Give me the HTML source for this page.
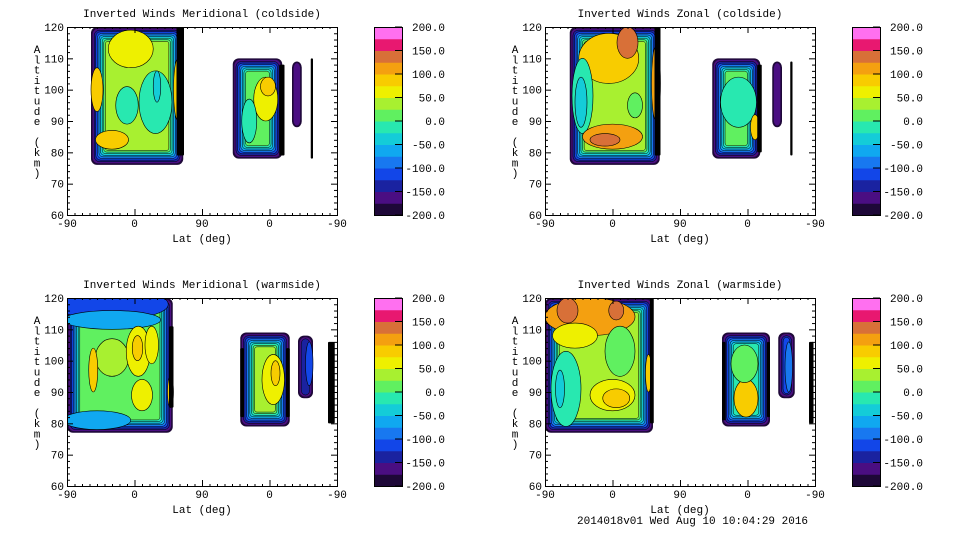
<!DOCTYPE html>
<html><head><meta charset="utf-8">
<style>
html,body{margin:0;padding:0;background:#fff;}
body{width:960px;height:540px;overflow:hidden;font-family:"Liberation Mono",monospace;}
svg text{font-family:"Liberation Mono",monospace;font-size:11px;fill:#000;}
</style></head>
<body>
<svg id="root" width="960" height="540" viewBox="0 0 960 540"></svg>
<script>
// colour levels (-200..200 in 25 steps)
const levelColors = ["#1e0838","#4a0e82","#1a22a0","#1246e8","#1878f0","#10a8f0","#14ccd8","#28e8b0","#60f060","#a8f030","#eef000","#f8cc00","#f4a010","#d87038","#c84858","#e81870","#f03c9c","#ff70f0"];
const levelLabels = ["-200.0","-150.0","-100.0","-50.0","0.0","50.0","100.0","150.0","200.0"];
const xTickLabels = ["-90","0","90","0","-90"];
const yTickValues = [60,70,80,90,100,110,120];
const panelTitles = ["Inverted Winds Meridional (coldside)","Inverted Winds Zonal (coldside)","Inverted Winds Meridional (warmside)","Inverted Winds Zonal (warmside)"];
// blocks: [u0,u1,alt0,alt1,fillLevel] (u: 0..360 along track)
const blocksP1 = [[32,155,76,120,9],[221,287,78,110,8],[300,313,88,109,1]];
const blocksP2 = [[33,153,76,120,9],[223,287,78,110,8],[303,316,88,109,1]];
const blocksP3 = [[0,141,77,120,8],[231,297,79,109,9],[308,328,88,108,2]];
const blocksP4 = [[0,144,77,120,9],[236,300,79,109,7],[311,333,88,109,3]];
// features: [u, alt, radius-u, radius-alt, level]
const featP1 = [[85,113,30,6,10],[60,84,22,3,11],[40,100,8,7,11],[118,96,22,10,7],[120,101,5,5,6],[148,100,6,10,11],[80,95,15,6,7],[265,97,16,7,10],[268,101,10,3,11],[243,90,10,7,7]];
const featP2 = [[85,110,40,8,11],[110,115,14,5,13],[50,98,14,12,7],[48,96,8,8,6],[90,85,40,4,12],[80,84,20,2,13],[148,102,6,12,12],[120,95,10,4,8],[258,96,24,8,7],[280,88,6,4,11]];
const featP3 = [[60,118,75,5,3],[60,113,65,3,5],[40,81,45,3,5],[60,101,22,6,9],[35,97,6,7,11],[95,103,16,8,10],[94,104,7,4,11],[113,105,9,6,10],[100,89,14,5,10],[138,90,4,5,11],[275,94,15,8,10],[278,96,6,4,11],[323,99,5,7,3]];
const featP4 = [[60,114,60,6,12],[30,116,14,4,13],[95,116,10,3,13],[40,108,30,4,10],[28,91,20,12,7],[20,91,6,6,6],[90,89,30,5,10],[95,88,18,3,11],[138,96,4,6,11],[100,103,20,8,8],[268,88,16,6,11],[266,99,18,6,8],[325,98,5,8,4]];
// black heavy-contour strips: [u0,u1,alt0,alt1]
const strips = [[[146,156,79,120],[283,290,79,108],[325,328,78,110]],[[146,154,79,120],[283,289,80,108],[327,330,79,109]],[[136,142,85,111],[231,236,82,104],[292,297,82,104],[348,357,80,106]],[[140,145,80,120],[236,241,81,106],[296,300,82,106],[352,358,80,106]]];
const panelBlocks=[blocksP1,blocksP2,blocksP3,blocksP4];
const panelFeats=[featP1,featP2,featP3,featP4];

const NS="http://www.w3.org/2000/svg";
const root=document.getElementById('root');
function mk(tag,attrs,parent){const e=document.createElementNS(NS,tag);for(const k in attrs)e.setAttribute(k,attrs[k]);(parent||root).appendChild(e);return e;}

const origins=[[67,27],[545,27],[67,298],[545,298]];
const W=270,H=188;
for(let p=0;p<4;p++){
  const [ox,oy]=origins[p];
  const xs=u=>ox+u*W/360;
  const ys=a=>oy+(120-a)*H/60;
  const g=mk('g',{});
  
  
  const cp=mk('clipPath',{id:'cp'+p},g);
  mk('rect',{x:ox,y:oy,width:W,height:H},cp);
  const plot=mk('g',{'clip-path':'url(#cp'+p+')'},g);
  panelBlocks[p].forEach((b,bi)=>{
    const bg=mk('g',{},plot);
    
    
    const x0=xs(b[0]),x1=xs(b[1]),y0=ys(b[3]),y1=ys(b[2]);
    const lvl=b[4];
    const step=Math.min(1.6,(x1-x0)/(2*(lvl+1)));
    for(let i=0;i<=lvl;i++){
      const ins=i*step;
      const w=x1-x0-2*ins,h=y1-y0-2*ins;
      if(w<=0||h<=0)break;
      mk('rect',{x:x0+ins,y:y0+ins,width:w,height:h,rx:Math.max(1,6-i*0.4),fill:levelColors[i],stroke:i>1?'#000':'none','stroke-width':0.5},bg);
    }
  });
  panelFeats[p].forEach(f=>{
    const e=mk('ellipse',{cx:xs(f[0]),cy:ys(f[1]),rx:f[2]*W/360,ry:f[3]*H/60,fill:levelColors[f[4]],stroke:'#000','stroke-width':0.6},plot);
    
    
  });
  strips[p].forEach(s=>{
    const r=mk('rect',{x:xs(s[0]),y:ys(s[3]),width:xs(s[1])-xs(s[0]),height:ys(s[2])-ys(s[3]),fill:'#000',rx:1},plot);
    
    
  });
  const fr=mk('rect',{x:ox+0.5,y:oy+0.5,width:W,height:H,fill:'none',stroke:'#000','stroke-width':1},g);
  
  
  for(let a=60;a<=120;a+=2){
    const len=(a%10===0)?6:3;
    mk('line',{x1:ox,x2:ox+len,y1:ys(a)+0.5,y2:ys(a)+0.5,stroke:'#000'},g);
    mk('line',{x1:ox+W-len,x2:ox+W,y1:ys(a)+0.5,y2:ys(a)+0.5,stroke:'#000'},g);
  }
  for(let u=0;u<=360;u+=10){
    const len=(u%90===0)?6:2;
    mk('line',{x1:xs(u)+0.5,x2:xs(u)+0.5,y1:oy+H,y2:oy+H-len,stroke:'#000'},g);
    mk('line',{x1:xs(u)+0.5,x2:xs(u)+0.5,y1:oy,y2:oy+len,stroke:'#000'},g);
  }
  yTickValues.forEach(v=>{
    const t=mk('text',{x:ox-3,y:ys(v)+4,'text-anchor':'end'},g);t.textContent=v;
    
  });
  xTickLabels.forEach((l,i)=>{
    const t=mk('text',{x:xs(i*90),y:oy+H+12,'text-anchor':'middle'},g);t.textContent=l;
    
  });
  const tt=mk('text',{x:ox+W/2,y:oy-10,'text-anchor':'middle'},g);tt.textContent=panelTitles[p];
  
  const xl=mk('text',{x:ox+W/2,y:oy+H+27,'text-anchor':'middle'},g);xl.textContent='Lat (deg)';
  
  const yl=mk('g',{},g);
  
  "Altitude (km)".split('').forEach((c,i)=>{const t=mk('text',{x:ox-30,y:oy+26+i*10.3,'text-anchor':'middle'},yl);t.textContent=c;});
  const cb=mk('g',{},g);
  
  const cx=ox+307,cw=28,nb=16;
  const bh=H/nb;
  const cbColors=[0,1,2,3,4,5,6,7,8,9,10,11,12,13,14,15,16,17].filter(i=>i!==16&&i!==14);
  for(let i=0;i<nb;i++){
    mk('rect',{x:cx,y:oy+H-(i+1)*bh,width:cw,height:bh+0.5,fill:levelColors[cbColors[i]]},cb);
  }
  mk('rect',{x:cx+0.5,y:oy+0.5,width:cw,height:H,fill:'none',stroke:'#000'},cb);
  levelLabels.forEach((l,i)=>{
    const y=oy+H-i*H/8;
    mk('line',{x1:cx+cw-7,x2:cx+cw,y1:y,y2:y,stroke:'#000'},cb);
    const t=mk('text',{x:ox+378,y:y+4,'text-anchor':'end'},cb);t.textContent=l;
  });
}
const ft=mk('text',{x:577,y:524});
ft.textContent='2014018v01 Wed Aug 10 10:04:29 2016';


</script>
</body></html>
